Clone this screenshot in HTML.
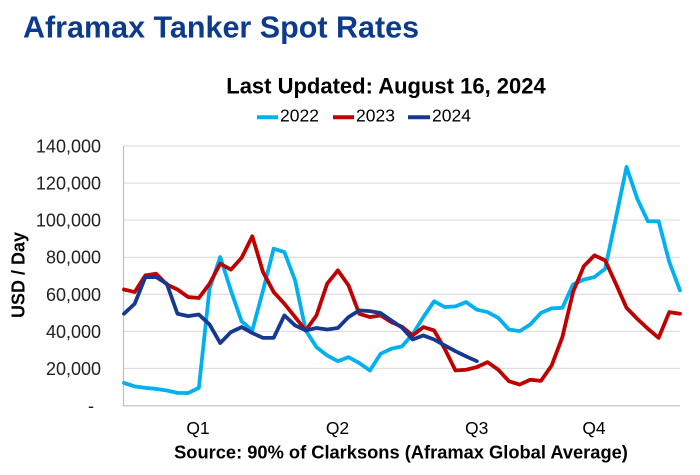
<!DOCTYPE html>
<html>
<head>
<meta charset="utf-8">
<style>
  html, body { margin: 0; padding: 0; background: #ffffff; }
  body { width: 700px; height: 475px; overflow: hidden; }
  svg { display: block; }
  text { font-family: "Liberation Sans", Arial, sans-serif; }
</style>
</head>
<body>
<svg width="700" height="475" viewBox="0 0 700 475" xmlns="http://www.w3.org/2000/svg">
  <rect x="0" y="0" width="700" height="475" fill="#ffffff"/>

  <!-- Title -->
  <text x="23" y="37.5" font-size="30.5" font-weight="bold" fill="#0c3a8d">Aframax Tanker Spot Rates</text>

  <!-- Subtitle -->
  <text x="386" y="93.3" font-size="22" font-weight="bold" fill="#000000" text-anchor="middle">Last Updated: August 16, 2024</text>

  <!-- Legend -->
  <line x1="257" y1="117.3" x2="278" y2="117.3" stroke="#00b0f0" stroke-width="4"/>
  <text x="280" y="121.7" font-size="17.5" fill="#000000">2022</text>
  <line x1="333" y1="117.3" x2="354" y2="117.3" stroke="#c00000" stroke-width="4"/>
  <text x="356" y="121.7" font-size="17.5" fill="#000000">2023</text>
  <line x1="408" y1="117.3" x2="430" y2="117.3" stroke="#16398f" stroke-width="4"/>
  <text x="432" y="121.7" font-size="17.5" fill="#000000">2024</text>

  <!-- Gridlines -->
  <g stroke="#d9d9d9" stroke-width="1">
    <line x1="124" y1="146" x2="680" y2="146"/>
    <line x1="124" y1="183.1" x2="680" y2="183.1"/>
    <line x1="124" y1="220.1" x2="680" y2="220.1"/>
    <line x1="124" y1="257.2" x2="680" y2="257.2"/>
    <line x1="124" y1="294.3" x2="680" y2="294.3"/>
    <line x1="124" y1="331.4" x2="680" y2="331.4"/>
    <line x1="124" y1="368.4" x2="680" y2="368.4"/>
  </g>
  <!-- Axes -->
  <line x1="123.5" y1="146" x2="123.5" y2="406" stroke="#bfbfbf" stroke-width="1.2"/>
  <line x1="123" y1="405.8" x2="680" y2="405.8" stroke="#bfbfbf" stroke-width="1.2"/>

  <!-- Y tick labels -->
  <g font-size="18" fill="#222222" text-anchor="end">
    <text x="101" y="152.5">140,000</text>
    <text x="101" y="189.6">120,000</text>
    <text x="101" y="226.6">100,000</text>
    <text x="101" y="263.7">80,000</text>
    <text x="101" y="300.8">60,000</text>
    <text x="101" y="337.9">40,000</text>
    <text x="101" y="374.9">20,000</text>
    <text x="94" y="412">-</text>
  </g>

  <!-- Y axis title -->
  <text transform="translate(24.5,275) rotate(-90)" font-size="18" font-weight="bold" fill="#000000" text-anchor="middle">USD / Day</text>

  <!-- X labels -->
  <g font-size="17.5" fill="#000000" text-anchor="middle">
    <text x="198" y="434">Q1</text>
    <text x="337.5" y="434">Q2</text>
    <text x="476.7" y="434">Q3</text>
    <text x="594" y="434">Q4</text>
  </g>

  <!-- Source -->
  <text x="401" y="458.3" font-size="18.3" font-weight="bold" fill="#000000" text-anchor="middle">Source: 90% of Clarksons (Aframax Global Average)</text>

  <!-- Series -->
  <g transform="translate(124,405.5) scale(10.692,-1.8535)" fill="none" stroke-linejoin="round" stroke-linecap="round">
    <polyline vector-effect="non-scaling-stroke" stroke="#00b0f0" stroke-width="3.8"
      points="0,12.2 1,10.3 2,9.5 3,9.0 4,8.1 5,6.8 6,6.7 7,9.5 8,63 9,80.1 10,62 11,45.4 12,40.5 13,62 14,84.6 15,82.8 16,67.5 17,40.5 18,31.5 19,27 20,23.9 21,26.1 22,22.9 23,18.9 24,27.9 25,30.6 26,31.9 27,38.5 28,47.7 29,56.2 30,53.1 31,53.5 32,55.8 33,51.7 34,50.4 35,47.3 36,41 37,40.1 38,43.7 39,50 40,52.4 41,52.7 42,65.3 43,67.9 44,69.3 45,73.8 46,101 47,128.7 48,111.6 49,99.4 50,99.4 51,77.4 52,62.1"/>
    <polyline vector-effect="non-scaling-stroke" stroke="#c00000" stroke-width="3.8"
      points="0,62.6 1,61.2 2,70.2 3,71.1 4,65.3 5,62.6 6,58.5 7,58 8,65.7 9,76.5 10,73.3 11,79.7 12,91.3 13,72 14,61.2 15,54.9 16,47.7 17,40.5 18,48.6 19,65.7 20,72.9 21,64.8 22,49.5 23,47.7 24,48.6 25,45 26,42.5 27,37.8 28,42.3 29,40.5 30,30.6 31,18.9 32,19.3 33,20.7 34,23.4 35,19.3 36,13.1 37,11.3 38,13.9 39,13.3 40,21.6 41,36.9 42,61.2 43,75.1 44,81 45,78.3 46,65.7 47,52.7 48,46.8 49,41.4 50,36.5 51,50.4 52,49.5"/>
    <polyline vector-effect="non-scaling-stroke" stroke="#16398f" stroke-width="3.8"
      points="0,49.5 1,54.9 2,69.3 3,69.3 4,65.7 5,49.5 6,48.2 7,49.1 8,43.7 9,33.7 10,39.6 11,42.3 12,39.1 13,36.5 14,36.5 15,48.6 16,43.2 17,40.5 18,41.8 19,41 20,41.8 21,47.7 22,51.3 23,50.9 24,49.9 25,45.9 26,42 27,35.6 28,37.8 29,35.6 30,32.4 31,29.3 32,26.5 33,23.9"/>
  </g>
</svg>
</body>
</html>
